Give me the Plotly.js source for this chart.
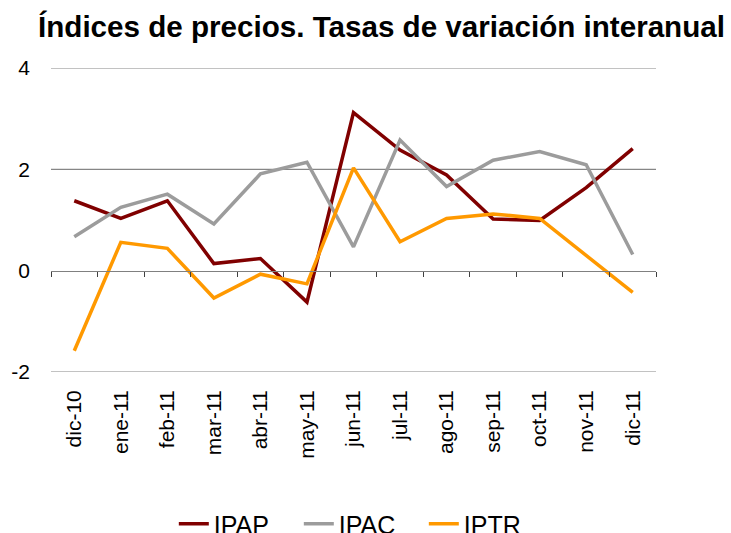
<!DOCTYPE html>
<html>
<head>
<meta charset="utf-8">
<script src="https://cdn.plot.ly/plotly-3.0.1.min.js"></script>
<style>html,body{margin:0;padding:0;background:#fff;}#chart{width:731px;height:533px;}</style>
</head>
<body>
<div id="chart"></div>
<script>
const categories = ["dic-10","ene-11","feb-11","mar-11","abr-11","may-11","jun-11","jul-11","ago-11","sep-11","oct-11","nov-11","dic-11"];
const ipap = [1.38, 1.03, 1.38, 0.14, 0.24, -0.62, 3.12, 2.38, 1.89, 1.02, 0.99, 1.64, 2.41];
const ipac = [0.67, 1.25, 1.51, 0.92, 1.91, 2.14, 0.47, 2.58, 1.66, 2.18, 2.35, 2.09, 0.32];
const iptr = [-1.58, 0.56, 0.44, -0.54, -0.07, -0.26, 2.03, 0.57, 1.03, 1.12, 1.03, 0.30, -0.43];
const yTicks = [-2, 0, 2, 4];

const font = "Liberation Sans, Arial, sans-serif";
const mk = (name, y, color) => ({
  type: "scatter", mode: "lines", name: name, x: categories, y: y,
  line: {color: color, width: 3.5}, xaxis: "x", yaxis: "y"
});
const traces = [
  mk("IPAP", ipap, "#800000"),
  mk("IPAC", ipac, "#9c9c9c"),
  mk("IPTR", iptr, "#ff9900"),
  {type: "scatter", mode: "lines", x: categories, y: ipap, xaxis: "x2", yaxis: "y",
   opacity: 0, showlegend: false, hoverinfo: "skip", line: {width: 0}}
];

const gridShapes = yTicks.filter(v => v !== 0).map(v => ({
  type: "line", xref: "paper", x0: 0, x1: 1, yref: "y", y0: v, y1: v,
  line: {color: "#868686", width: 1.2}, layer: "below"
}));

const layout = {
  width: 731, height: 533,
  margin: {l: 51, r: 75, t: 68, b: 161, autoexpand: false},
  paper_bgcolor: "#fff", plot_bgcolor: "#fff",
  title: {text: "<b>Índices de precios. Tasas de variación interanual</b>",
    font: {family: font, size: 29.6, color: "#000"},
    xref: "container", x: 38/731, xanchor: "left",
    yref: "container", y: 1 - 27/533, yanchor: "middle"},
  xaxis: {type: "category", categoryarray: categories, range: [-0.5, 12.5],
    showline: false, showgrid: false, zeroline: false, ticks: "",
    tickangle: -90, ticklabelstandoff: 13,
    tickfont: {family: font, size: 21, color: "#000"}},
  xaxis2: {type: "category", categoryarray: categories, range: [-0.5, 12.5],
    overlaying: "x", anchor: "free", position: 1/3,
    showline: true, linecolor: "#808080", linewidth: 1.2,
    ticks: "outside", tickson: "boundaries", ticklen: 5, tickcolor: "#404040", tickwidth: 1,
    showticklabels: false, showgrid: false, zeroline: false},
  yaxis: {range: [-2, 4], tickvals: yTicks, ticktext: yTicks.map(String),
    showgrid: false, zeroline: false, showline: false, ticks: "", ticklabelstandoff: 20,
    tickfont: {family: font, size: 21, color: "#000"}},
  shapes: gridShapes,
  legend: {orientation: "h", x: 0.203, xanchor: "left", y: -0.5, yanchor: "middle",
    font: {family: font, size: 25, color: "#000"}, entrywidth: 80, entrywidthmode: "pixels",
    tracegroupgap: 0},
  showlegend: true
};
Plotly.newPlot("chart", traces, layout, {displayModeBar: false, staticPlot: true});
</script>
</body>
</html>
